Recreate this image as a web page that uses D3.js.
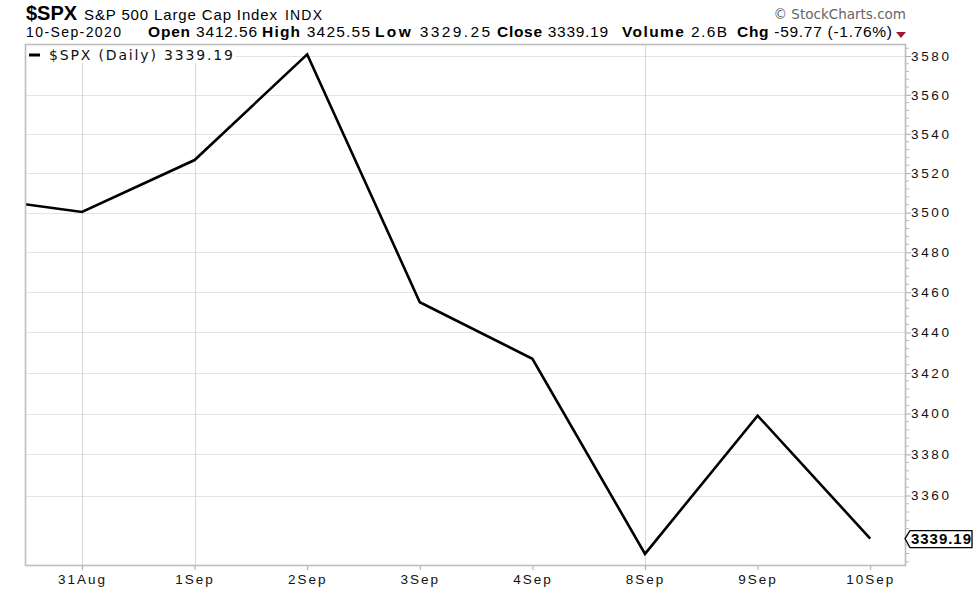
<!DOCTYPE html>
<html><head><meta charset="utf-8">
<script src="https://cdn.jsdelivr.net/npm/d3@7"></script>
<style>body{margin:0;background:#fff}svg{display:block}</style>
</head><body>
<svg id="c" width="974" height="589"></svg>
<script>
const dates = ["28Aug","31Aug","1Sep","2Sep","3Sep","4Sep","8Sep","9Sep","10Sep"];
const closes = [3508.01,3500.31,3526.65,3580.84,3455.06,3426.96,3331.84,3398.96,3339.19];
const axisDates = ["31Aug","1Sep","2Sep","3Sep","4Sep","8Sep","9Sep","10Sep"];
const gridDates = ["31Aug","1Sep","8Sep"];
const yTicks = [3360,3380,3400,3420,3440,3460,3480,3500,3520,3540,3560,3580];
const lastValue = "3339.19";
const headerLeft = [
  {label:"Open", value:"3412.56", x0:148, x1:257},
  {label:"High", value:"3425.55", x0:262, x1:370},
  {label:"Low", value:"3329.25", x0:375, x1:490},
  {label:"Close", value:"3339.19", x0:497, x1:608},
  {label:"Volume", value:"2.6B", x0:622, x1:727},
  {label:"Chg", value:"-59.77 (-1.76%)", x0:737, x1:892}
];

const svg = d3.select("#c");
const L = 25, R = 906, T = 44, B = 566;
const step = 112.6;
const x = d3.scalePoint().domain(dates).range([82 - step, 82 + step*(dates.length-2)]);
const y = d3.scaleLog().domain([3326.0, 3586.2]).range([B, T]);

svg.append("defs").append("clipPath").attr("id","clip")
  .append("rect").attr("x",L).attr("y",T).attr("width",R-L).attr("height",B-T);

// horizontal grid
svg.append("g").selectAll("line").data(yTicks).join("line")
  .attr("x1",L).attr("x2",R).attr("y1",d=>Math.round(y(d))+0.5).attr("y2",d=>Math.round(y(d))+0.5)
  .attr("stroke","#e4e4e4").attr("stroke-width",1);
// vertical grid
svg.append("g").selectAll("line").data(gridDates).join("line")
  .attr("x1",d=>Math.round(x(d))+0.5).attr("x2",d=>Math.round(x(d))+0.5).attr("y1",T).attr("y2",B)
  .attr("stroke","#d6d6d6").attr("stroke-width",1);

// price line
svg.append("path").datum(dates.map((d,i)=>[d,closes[i]]))
  .attr("clip-path","url(#clip)")
  .attr("fill","none").attr("stroke","#000").attr("stroke-width",2.6).attr("stroke-linejoin","miter")
  .attr("d", d3.line().x(d=>x(d[0])).y(d=>y(d[1])));

// legend box
svg.append("rect").attr("x",L).attr("y",T).attr("width",211).attr("height",19).attr("fill","#fff");
svg.append("line").attr("x1",29).attr("x2",40).attr("y1",55).attr("y2",55).attr("stroke","#000").attr("stroke-width",3);
svg.append("text").attr("x",49).attr("y",60).attr("font-family","DejaVu Sans, Verdana, sans-serif")
  .attr("font-size",14).attr("fill","#111").attr("textLength",184).text("$SPX (Daily) "+lastValue);

// frame
svg.append("rect").attr("x",L+0.5).attr("y",T+0.5).attr("width",R-L-1).attr("height",B-T-1)
  .attr("fill","none").attr("stroke","#bdbdbd").attr("stroke-width",1.6);

// right axis
const yAxis = d3.axisRight(y).tickValues(yTicks).tickSize(5).tickPadding(0).tickFormat(d3.format("d"));
const ya = svg.append("g").attr("transform",`translate(${R},0)`).call(yAxis);
ya.select(".domain").remove();
ya.selectAll(".tick line").attr("stroke","#aaa");
ya.selectAll(".tick text").attr("font-family","Liberation Sans, Arial, sans-serif").attr("font-size",13.5)
  .attr("textLength",38).attr("fill","#111");
const minor = d3.range(3328, 3588, 4).filter(v=>v%20!==0);
svg.append("g").selectAll("line").data(minor).join("line")
  .attr("x1",R).attr("x2",R+3).attr("y1",d=>y(d)).attr("y2",d=>y(d)).attr("stroke","#bbb");

// bottom axis
const xAxis = d3.axisBottom(x).tickValues(axisDates).tickSize(4).tickPadding(4);
const xa = svg.append("g").attr("transform",`translate(0,${B})`).call(xAxis);
xa.select(".domain").remove();
xa.selectAll(".tick line").attr("stroke","#aaa");
xa.selectAll(".tick text").attr("font-family","Liberation Sans, Arial, sans-serif").attr("font-size",13.5)
  .attr("letter-spacing","2px").attr("fill","#111");

// last value tag
const ly = y(+lastValue);
svg.append("path").attr("d",`M905,${ly} L910,${ly-8} L972,${ly-8} L972,${ly+9} L910,${ly+9} Z`)
  .attr("fill","#fff").attr("stroke","#000").attr("stroke-width",1.3);
svg.append("text").attr("x",941).attr("y",ly+5.5).attr("text-anchor","middle")
  .attr("font-family","Liberation Sans, Arial, sans-serif").attr("font-weight","bold").attr("font-size",15)
  .attr("textLength",60).attr("fill","#000").text(lastValue);

// header
const hf = "Liberation Sans, Arial, sans-serif";
svg.append("text").attr("x",26).attr("y",20).attr("font-family",hf).attr("font-weight","bold").attr("font-size",20).text("$SPX");
svg.append("text").attr("x",84).attr("y",20).attr("font-family",hf).attr("font-size",15).attr("textLength",193).text("S&P 500 Large Cap Index");
svg.append("text").attr("x",285).attr("y",20).attr("font-family",hf).attr("font-size",14).attr("textLength",37).text("INDX");
svg.append("text").attr("x",26).attr("y",37).attr("font-family",hf).attr("font-size",14).attr("textLength",95).text("10-Sep-2020");
const hg = svg.append("g").attr("font-family",hf).attr("font-size",15.5);
headerLeft.forEach(h=>{
  const t = hg.append("text").attr("x",h.x0).attr("y",37)
    .attr("textLength",h.x1-h.x0).attr("lengthAdjust","spacing");
  t.append("tspan").attr("font-weight","bold").text(h.label);
  t.append("tspan").text(" "+h.value);
});
svg.append("path").attr("d","M896,32 L906,32 L901,38 Z").attr("fill","#9b1b30");
svg.append("text").attr("x",906).attr("y",19).attr("text-anchor","end").attr("font-family","DejaVu Sans, Verdana, sans-serif")
  .attr("font-size",13.5).attr("fill","#666").text("© StockCharts.com");
</script>
</body></html>
